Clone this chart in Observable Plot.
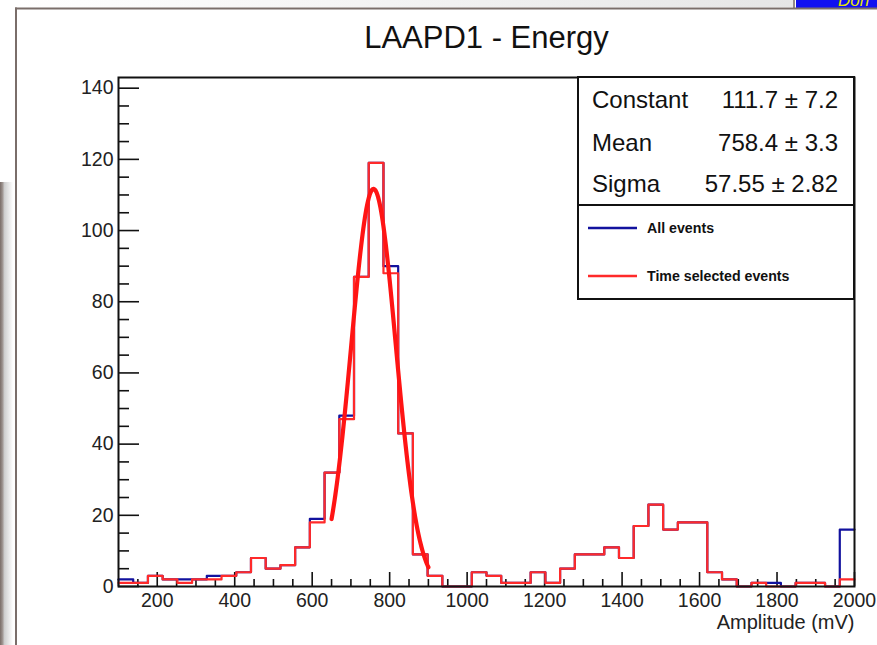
<!DOCTYPE html>
<html>
<head>
<meta charset="utf-8">
<script src="https://cdn.jsdelivr.net/npm/d3@7"></script>
<script src="https://cdn.jsdelivr.net/npm/@observablehq/plot@0.6"></script>
<style>
  html, body { margin: 0; padding: 0; background: #ffffff; }
  #chart { width: 877px; height: 645px; overflow: hidden; }
</style>
</head>
<body>
<div id="chart"></div>
<script>
// ---- data (50 bins of 38 mV from 100 to 2000 mV) ----
const binStart = 100;
const binWidth = 38;
const allEvents = [2, 1, 3, 2, 2, 2, 3, 3, 4, 8,
                   5, 6, 11, 19, 32, 48, 87, 119, 90, 43,
                   9, 3, 0, 0, 4, 3, 1, 1, 4, 1,
                   5, 9, 9, 11, 8, 17, 23, 16, 18, 18,
                   4, 2, 0, 1, 1, 0, 1, 1, 0, 16];
const timeSelected = [1, 1, 3, 2, 1, 2, 2, 3, 4, 8,
                      5, 6, 11, 18, 32, 47, 87, 119, 88, 43,
                      9, 3, 0, 0, 4, 3, 1, 1, 4, 1,
                      5, 9, 9, 11, 8, 17, 23, 16, 18, 18,
                      4, 2, 0, 1, 0, 0, 1, 1, 0, 2];
// Gaussian fit parameters (from the stats box) and fit range
const fitConstant = 111.7, fitMean = 758.4, fitSigma = 57.55;
const fitRange = [650, 900];
const statsRows = [
  ["Constant", "111.7 \u00b1 7.2"],
  ["Mean", "758.4 \u00b1 3.3"],
  ["Sigma", "57.55 \u00b1 2.82"]
];
const legendItems = [
  {label: "All events", color: "#12129e"},
  {label: "Time selected events", color: "#ff2a2a"}
];
const xMajor = [200, 400, 600, 800, 1000, 1200, 1400, 1600, 1800, 2000];
const xMinor = d3.range(100, 2001, 50).filter(v => v % 200 !== 0);
const yMajor = [0, 20, 40, 60, 80, 100, 120, 140];
const yMinor = d3.range(0, 141, 5).filter(v => v % 20 !== 0);
const title = "LAAPD1 - Energy";
const xLabel = "Amplitude (mV)";

// ---- build tables ----
function stepPoints(values) {
  const pts = values.map((v, i) => ({x: binStart + i * binWidth, y: v}));
  pts.push({x: binStart + values.length * binWidth, y: values[values.length - 1]});
  return pts;
}
const allPts = stepPoints(allEvents);
const selPts = stepPoints(timeSelected);
const fitPts = d3.range(fitRange[0], fitRange[1] + 0.001, 2).map(x => ({
  x, y: fitConstant * Math.exp(-0.5 * ((x - fitMean) / fitSigma) ** 2)
}));

const font = "'Liberation Sans', Arial, Helvetica, sans-serif";

const plot = Plot.plot({
  width: 877,
  height: 645,
  marginLeft: 118,
  marginRight: 23,
  marginTop: 77,
  marginBottom: 59,
  x: {domain: [100, 2000], label: null},
  y: {domain: [0, 143], label: null},
  style: {fontFamily: font, fontSize: "19.5px", background: "transparent", color: "#111", overflow: "visible"},
  marks: [
    Plot.axisX({ticks: xMajor, tickSize: 0, tickPadding: 7, tickFormat: d => String(d), label: null, fill: "#222"}),
    Plot.axisX({ticks: xMajor, tickSize: -14, fill: "none", stroke: "#111", strokeWidth: 1.6, label: null}),
    Plot.axisX({ticks: xMinor, tickSize: -7, fill: "none", stroke: "#111", strokeWidth: 1.6, label: null}),
    Plot.axisY({ticks: yMajor, tickSize: 0, tickPadding: 5, tickFormat: d => String(d), label: null, fill: "#222"}),
    Plot.axisY({ticks: yMajor, tickSize: -21, fill: "none", stroke: "#111", strokeWidth: 1.6, label: null}),
    Plot.axisY({ticks: yMinor, tickSize: -11, fill: "none", stroke: "#111", strokeWidth: 1.6, label: null}),
    Plot.line(allPts, {x: "x", y: "y", curve: "step-after", stroke: legendItems[0].color, strokeWidth: 2.2}),
    Plot.line(selPts, {x: "x", y: "y", curve: "step-after", stroke: legendItems[1].color, strokeWidth: 2.2}),
    Plot.line(fitPts, {x: "x", y: "y", curve: "linear", stroke: "#ff1414", strokeWidth: 4.2}),
    Plot.frame({stroke: "#111", strokeWidth: 2}),
    Plot.text([title], {frameAnchor: "top", lineAnchor: "middle", dy: -39, fontSize: 31, fill: "#111"}),
    Plot.text([xLabel], {frameAnchor: "bottom-right", lineAnchor: "middle", dy: 36, textAnchor: "end", fontSize: 20, fill: "#222"})
  ]
});

document.getElementById("chart").appendChild(plot);

// ---- background decorations (canvas border, window chrome) ----
const svg = d3.select(plot);
const bg = svg.insert("g", ":first-child");
const defs = svg.insert("defs", ":first-child");
const g1 = defs.append("linearGradient").attr("id", "shadowL").attr("x1", 0).attr("x2", 1).attr("y1", 0).attr("y2", 0);
g1.append("stop").attr("offset", "0%").attr("stop-color", "#7a6d68");
g1.append("stop").attr("offset", "18%").attr("stop-color", "#9a908c");
g1.append("stop").attr("offset", "35%").attr("stop-color", "#cfcfcf");
g1.append("stop").attr("offset", "100%").attr("stop-color", "#ffffff");
const g2 = defs.append("linearGradient").attr("id", "chromeTop").attr("x1", 0).attr("x2", 1).attr("y1", 0).attr("y2", 0);
g2.append("stop").attr("offset", "0%").attr("stop-color", "#ffffff");
g2.append("stop").attr("offset", "100%").attr("stop-color", "#e6e6e6");

bg.append("rect").attr("x", 0).attr("y", 0).attr("width", 877).attr("height", 645).attr("fill", "#ffffff");
bg.append("rect").attr("x", 17).attr("y", 0).attr("width", 776).attr("height", 7).attr("fill", "url(#chromeTop)");
bg.append("rect").attr("x", 796).attr("y", 0).attr("width", 81).attr("height", 8).attr("fill", "#1010f0");
bg.append("line").attr("x1", 794).attr("x2", 794).attr("y1", 0).attr("y2", 8).attr("stroke", "#6f6560").attr("stroke-width", 1.5);
bg.append("text").attr("x", 838).attr("y", 6).attr("font-size", 17).attr("font-style", "italic")
  .attr("text-anchor", "start").attr("fill", "#e6e600").attr("font-family", font).text("Don");
bg.append("rect").attr("x", 0).attr("y", 182).attr("width", 13).attr("height", 463).attr("fill", "url(#shadowL)");
bg.append("line").attr("x1", 15).attr("x2", 877).attr("y1", 8.5).attr("y2", 8.5).attr("stroke", "#7a6e6a").attr("stroke-width", 2);
bg.append("line").attr("x1", 16).attr("x2", 16).attr("y1", 7.5).attr("y2", 645).attr("stroke", "#7a6e6a").attr("stroke-width", 2);

// ---- stats box + legend (ROOT TPaveStats / TLegend) ----
const box = svg.append("g").attr("font-family", font).attr("text-anchor", "start");
const bx0 = 578, bx1 = 854, by0 = 77, bySep = 205, by1 = 299;
box.append("rect").attr("x", bx0).attr("y", by0).attr("width", bx1 - bx0).attr("height", by1 - by0)
  .attr("fill", "#ffffff").attr("stroke", "#111").attr("stroke-width", 2);
box.append("line").attr("x1", bx0).attr("x2", bx1).attr("y1", bySep).attr("y2", bySep).attr("stroke", "#111").attr("stroke-width", 2);
const rowBase = [108, 151, 192];
statsRows.forEach((r, i) => {
  box.append("text").attr("x", 592).attr("y", rowBase[i]).attr("font-size", 24)
    .attr("text-anchor", "start").attr("fill", "#111").text(r[0]);
  box.append("text").attr("x", 838).attr("y", rowBase[i]).attr("font-size", 24)
    .attr("text-anchor", "end").attr("fill", "#111").text(r[1]);
});
const legY = [228, 276];
legendItems.forEach((it, i) => {
  box.append("line").attr("x1", 588).attr("x2", 637).attr("y1", legY[i]).attr("y2", legY[i])
    .attr("stroke", it.color).attr("stroke-width", 2.4);
  box.append("text").attr("x", 647).attr("y", legY[i]).attr("dy", "0.35em").attr("font-size", 14.2)
    .attr("text-anchor", "start").attr("font-weight", "bold").attr("fill", "#111").text(it.label);
});
</script>
</body>
</html>
